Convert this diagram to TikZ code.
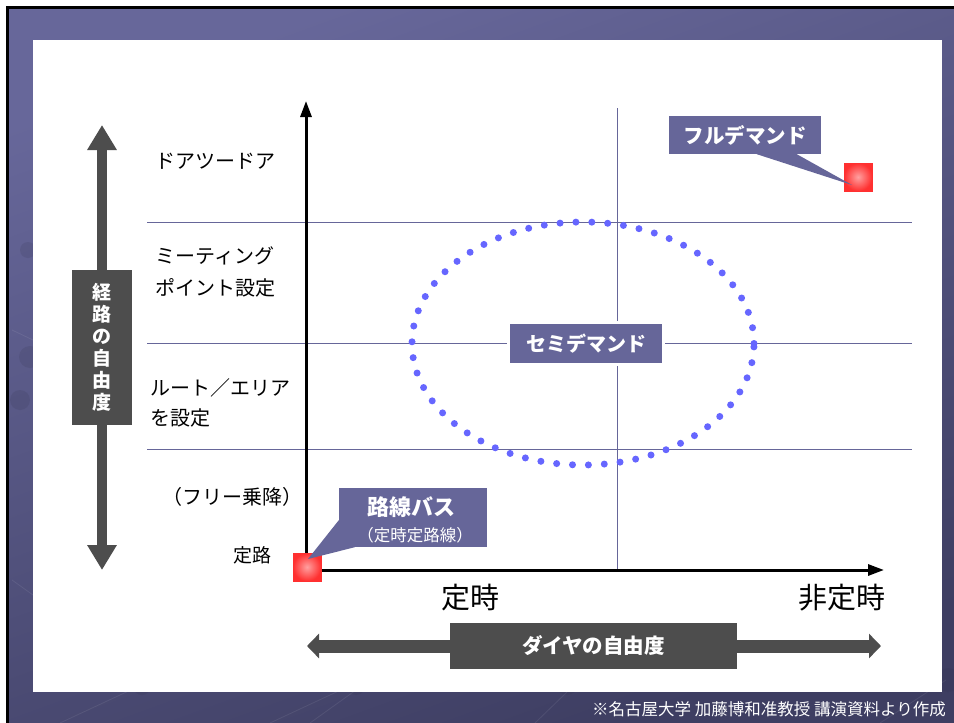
\documentclass[tikz,border=0pt]{standalone}
\usepackage{fontspec}
\setmainfont{Noto Sans CJK JP}
\usetikzlibrary{arrows.meta,calc}
\definecolor{slate}{HTML}{666699}
\definecolor{arrowgray}{HTML}{4D4D4D}
\definecolor{dotblue}{HTML}{6666FF}
\definecolor{sqred}{HTML}{FF3030}
\definecolor{sqpink}{HTML}{FFA0A0}
\definecolor{bgtop}{HTML}{67679A}
\definecolor{bgbot}{HTML}{3E3E62}
\definecolor{deco}{HTML}{2E2E4A}
\tikzset{
  grid/.style={slate, line width=1pt},
  lbl/.style={anchor=west, inner sep=0pt, font=\fontsize{20}{24}\selectfont},
  sqr/.style={minimum size=28pt, inner sep=0pt, inner color=sqpink, outer color=sqred, draw=sqred, line width=0.8pt},
  callout/.style={fill=slate, text=white, inner sep=0pt, align=center},
  calltext/.style={text=white, inner sep=0pt},
  graybox/.style={fill=arrowgray, text=white, inner sep=0pt, align=center},
  grayarrow/.style={arrowgray},
  axis/.style={black, line width=3pt},
  decoball/.style={fill=deco, opacity=0.15},
  decoline/.style={white, opacity=0.08, line width=0.8pt},
}
\begin{document}
\begin{tikzpicture}[x=1pt,y=-1pt]
\useasboundingbox (0,0) rectangle (954,723);
\fill[white] (0,0) rectangle (954,723);
\fill[black] (6,6) rectangle (954,723);
\shade[top color=bgtop, bottom color=bgbot, shading angle=20] (9,9) rectangle (954,723);
% faint background decoration
\draw[decoline] (60,723) -- (135,688);
\draw[decoline] (270,723) -- (345,688);
\draw[decoline] (310,723) -- (356,690);
\draw[decoline] (535,723) -- (567,692);
\draw[decoline] (880,723) -- (946,680);
\draw[decoline] (12,330) -- (33,340);
\draw[decoline] (12,580) -- (33,595);
\fill[decoball] (142,686) circle (9pt);
\fill[decoball] (356,686) circle (9pt);
\fill[decoball] (567,684) circle (11pt);
\fill[decoball] (948,680) circle (12pt);
\fill[decoball] (28,250) circle (8pt);
\fill[decoball] (30,357) circle (11pt);
\fill[decoball] (20,400) circle (10pt);
\fill[white] (33,40) rectangle (942,692);

% grid
\draw[grid] (147,222) -- (912,222);
\draw[grid] (147,343) -- (912,343);
\draw[grid] (147,449) -- (912,449);
\draw[grid] (617,108) -- (617,570);

% dotted ellipse
\draw[dotblue, line width=7pt, line cap=round, dash pattern=on 0pt off 15.9pt]
  (583,343.5) ellipse [x radius=171pt, y radius=121.5pt];

% axes
\coordinate (O) at (306,570);
\coordinate (ytip) at (306,101);
\coordinate (xstart) at (318,570);
\coordinate (xtip) at (884,570);
\draw[axis, -{Triangle[length=16pt,width=11pt]}] (O) -- (ytip);
\draw[axis, -{Triangle[length=16pt,width=11pt]}] (xstart) -- (xtip);

% left vertical gray arrow
\coordinate (vtop) at (102,125);
\coordinate (vbot) at (102,570);
\draw[grayarrow, line width=10pt, {Triangle[length=25pt,width=28pt]}-{Triangle[length=25pt,width=28pt]}] (vtop) -- (vbot);
\node[graybox, minimum width=60pt, minimum height=155pt, font=\bfseries\fontsize{19}{22}\selectfont] (route) at (102,347.5) {経\\路\\の\\自\\由\\度};

% bottom horizontal gray arrow
\coordinate (hleft) at (307,646);
\coordinate (hright) at (881,646);
\draw[grayarrow, line width=13pt, {Triangle[length=12pt,width=24pt]}-{Triangle[length=12pt,width=24pt]}] (hleft) -- (hright);
\node[graybox, minimum width=287pt, minimum height=46pt, font=\bfseries\fontsize{20.5}{24}\selectfont] (dia) at (593.5,646) {ダイヤの自由度};

% left labels
\node[lbl] (l1) at (155,161) {ドアツードア};
\node[lbl] (l2) at (155,256) {ミーティング};
\node[lbl] (l3) at (155,288) {ポイント設定};
\node[lbl] (l4) at (150,388) {ルート／エリア};
\node[lbl] (l5) at (150,418) {を設定};
\node[lbl] (l6) at (162,497) {（フリー乗降）};
\node[font=\fontsize{19}{22}\selectfont, inner sep=0pt] (l7) at (252,555) {定路};

% axis labels
\node[font=\fontsize{29}{32}\selectfont, inner sep=0pt] (teiji) at (470,598) {定時};
\node[font=\fontsize{29}{32}\selectfont, inner sep=0pt] (hiteiji) at (842,598) {非定時};

% red squares
\node[sqr] (bussq) at (307,567) {};
\node[sqr] (fullsq) at (858,177) {};

% callout: 路線バス
\node[callout, minimum width=148pt, minimum height=59pt] (bus) at (413,517.5) {};
\node[calltext, font=\bfseries\fontsize{22}{26}\selectfont] (bus1) at (411,507) {路線バス};
\node[calltext, font=\fontsize{16.5}{20}\selectfont] (bus2) at (415,535) {（定時定路線）};
\fill[slate] ($(bus.south west)+(0,-27)$) -- ($(bus.south west)+(16,0)$) -- ($(bussq.center)+(1,-8)$) -- cycle;

% callout: フルデマンド
\node[callout, minimum width=152pt, minimum height=38pt, font=\bfseries\fontsize{20.5}{24}\selectfont] (full) at (745,135) {フルデマンド};
\fill[slate] ($(full.south west)+(88,0)$) -- ($(full.south west)+(128,0)$) -- ($(fullsq.center)+(-6,8)$) -- cycle;

% semi demand
\node[callout, draw=white, line width=3pt, minimum width=155pt, minimum height=42pt, font=\bfseries\fontsize{20}{24}\selectfont] (semi) at (586,343.5) {セミデマンド};

% footnote
\node[anchor=east, text=white, inner sep=0pt, font=\fontsize{16.5}{18}\selectfont] (note) at (946,709) {※名古屋大学 加藤博和准教授 講演資料より作成};
\end{tikzpicture}
\end{document}
